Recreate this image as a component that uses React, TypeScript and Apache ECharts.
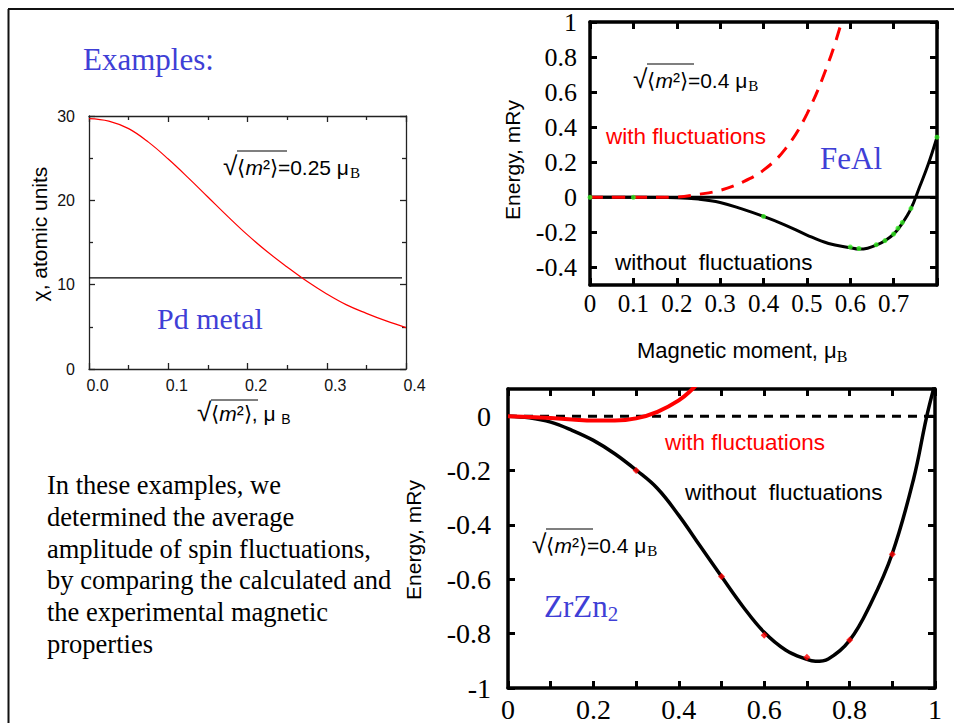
import React, { useEffect, useRef } from 'react';
import * as echarts from 'echarts';

const SANS = '"Liberation Sans", Arial, Helvetica, sans-serif';
const SERIF = '"Liberation Serif", "Times New Roman", Times, serif';
const BLUE = '#3f3fd6';
const RED = '#ff0000';

// ---- Pd metal: susceptibility vs fluctuation amplitude ----
const pdX = [0, 0.025, 0.05, 0.075, 0.1, 0.125, 0.15, 0.175, 0.2, 0.225, 0.25, 0.275, 0.3, 0.325, 0.35, 0.375, 0.4];
const pdChi = [29.7, 29.4, 28.5, 26.9, 24.9, 22.7, 20.4, 18.1, 15.9, 13.9, 12.1, 10.4, 8.9, 7.6, 6.6, 5.7, 4.9];
const pdLevelX = [0, 0.395];
const pdLevel = [10.8, 10.8];
const pdXTicks = [0, 0.1, 0.2, 0.3, 0.4];
const pdYTicks = [0, 10, 20, 30];

// ---- FeAl ----
const feX = [0, 0.1, 0.2, 0.25, 0.3, 0.35, 0.4, 0.45, 0.5, 0.55, 0.6, 0.62, 0.64, 0.66, 0.68, 0.7, 0.72, 0.74, 0.76, 0.78, 0.8];
const feNoFluct = [0, 0, -0.002, -0.01, -0.029, -0.066, -0.109, -0.158, -0.215, -0.263, -0.287, -0.295, -0.29, -0.273, -0.247, -0.21, -0.148, -0.065, 0.06, 0.19, 0.343];
const feFluctX = [0, 0.1, 0.2, 0.25, 0.3, 0.35, 0.4, 0.45, 0.5, 0.55, 0.58];
const feFluct = [0, 0, 0.002, 0.017, 0.04, 0.085, 0.155, 0.275, 0.475, 0.77, 1.0];
const feDotsX = [0, 0.1, 0.4, 0.6, 0.62, 0.66, 0.68, 0.7, 0.71, 0.72, 0.74, 0.8];
const feDots = [0, 0, -0.109, -0.283, -0.292, -0.27, -0.247, -0.209, -0.176, -0.143, -0.063, 0.343];
const feZeroX = [0, 0.8];
const feZero = [0, 0];
const feYTicks = [-0.4, -0.2, 0, 0.2, 0.4, 0.6, 0.8, 1];

// ---- ZrZn2 ----
const zrX = [0, 0.05, 0.1, 0.15, 0.2, 0.25, 0.3, 0.35, 0.4, 0.45, 0.5, 0.55, 0.6, 0.65, 0.7, 0.72, 0.75, 0.8, 0.85, 0.9, 0.95, 0.98, 1];
const zrNoFluct = [0, -0.006, -0.022, -0.052, -0.089, -0.138, -0.198, -0.266, -0.365, -0.478, -0.59, -0.7, -0.795, -0.86, -0.895, -0.902, -0.893, -0.825, -0.688, -0.505, -0.23, -0.005, 0.12];
const zrFluctX = [0, 0.05, 0.1, 0.15, 0.2, 0.25, 0.3, 0.35, 0.4, 0.43, 0.45];
const zrFluct = [0, -0.003, -0.007, -0.012, -0.016, -0.016, -0.008, 0.016, 0.058, 0.097, 0.13];
const zrDotsX = [0.3, 0.5, 0.6, 0.7, 0.8, 0.9];
const zrDots = [-0.2, -0.59, -0.806, -0.887, -0.823, -0.508];
const zrZeroX = [0, 1];
const zrZero = [0, 0];
const zrXTicks = [0, 0.2, 0.4, 0.6, 0.8, 1];
const zrYTicks = [-1, -0.8, -0.6, -0.4, -0.2, 0];

const textLines = [
  'In these examples, we',
  'determined the average',
  'amplitude of spin fluctuations,',
  'by comparing the calculated and',
  'the experimental magnetic',
  'properties',
];

const zip = (xs: number[], ys: number[]) => xs.map((x, i) => [x, ys[i]]);
const fmt = (v: number) => String(Math.round(v * 10) / 10);

function annotation(x: number, y: number, value: string, size: number) {
  return {
    type: 'text',
    x,
    y,
    z: 100,
    style: {
      text: `{r|√}{a|⟨}{i|m}{a|²⟩=${value} μ}{b|B}`,
      align: 'left',
      verticalAlign: 'middle',
      rich: {
        r: { fontFamily: SANS, fontSize: size * 1.25, fill: '#000', padding: [0, 0, 3, 0] },
        a: { fontFamily: SANS, fontSize: size, fill: '#000' },
        i: { fontFamily: SANS, fontSize: size, fontStyle: 'italic', fill: '#000' },
        b: { fontFamily: SERIF, fontSize: size * 0.72, fill: '#000', padding: [12, 0, 0, 1] },
      },
    },
  };
}

function overline(x1: number, x2: number, y: number) {
  return { type: 'line', z: 100, shape: { x1, y1: y, x2, y2: y }, style: { stroke: '#000', lineWidth: 1.2 } };
}

function label(x: number, y: number, text: string, color: string, size: number, family = SANS, rotate = false) {
  return {
    type: 'text',
    x,
    y,
    z: 100,
    rotation: rotate ? Math.PI / 2 : 0,
    style: {
      text,
      fill: color,
      fontSize: size,
      fontFamily: family,
      align: rotate ? 'center' : 'left',
      verticalAlign: 'middle',
    },
  };
}

export default function App() {
  const ref = useRef<HTMLDivElement>(null);

  useEffect(() => {
    if (!ref.current) return;
    const chart = echarts.init(ref.current, undefined, { renderer: 'svg' });

    const thin = { color: '#222', width: 1.3 };
    const thick = { color: '#000', width: 3.5 };
    const thickTick = { color: '#000', width: 3 };

    const option: any = {
      animation: false,
      backgroundColor: '#fff',
      grid: [
        { left: 89, top: 116, width: 317, height: 253 },
        { left: 590, top: 22, width: 347, height: 263 },
        { left: 508, top: 389, width: 427, height: 299 },
      ],
      xAxis: [
        {
          gridIndex: 0, type: 'value', position: 'bottom', min: 0, max: 0.4, interval: 0.1,
          axisLine: { onZero: false, lineStyle: thin },
          axisTick: { inside: true, length: 6, lineStyle: thin },
          minorTick: { show: true, splitNumber: 2, length: 4, lineStyle: thin },
          splitLine: { show: false },
          axisLabel: {
            fontFamily: SANS, fontSize: 16, color: '#111', margin: 8, padding: [0, 0, 0, 17],
            customValues: pdXTicks, formatter: (v: number) => v.toFixed(1),
          },
        },
        {
          gridIndex: 0, type: 'value', position: 'top', min: 0, max: 0.4, interval: 0.1,
          axisLine: { onZero: false, lineStyle: thin },
          axisTick: { inside: true, length: 6, lineStyle: thin },
          minorTick: { show: true, splitNumber: 2, length: 4, lineStyle: thin },
          splitLine: { show: false },
          axisLabel: { show: false },
        },
        {
          gridIndex: 1, type: 'value', position: 'bottom', min: 0, max: 0.8, interval: 0.1,
          axisLine: { onZero: false, lineStyle: thick },
          axisTick: { inside: true, length: 7, lineStyle: thickTick },
          splitLine: { show: false },
          axisLabel: {
            fontFamily: SERIF, fontSize: 25, color: '#000', margin: 6,
            formatter: (v: number) => (v > 0.75 ? '' : fmt(v)),
          },
        },
        {
          gridIndex: 1, type: 'value', position: 'top', min: 0, max: 0.8, interval: 0.1,
          axisLine: { onZero: false, lineStyle: thick },
          axisTick: { inside: true, length: 7, lineStyle: thickTick },
          splitLine: { show: false },
          axisLabel: { show: false },
        },
        {
          gridIndex: 2, type: 'value', position: 'bottom', min: 0, max: 1, interval: 0.1,
          axisLine: { onZero: false, lineStyle: thick },
          axisTick: { inside: true, length: 7, lineStyle: thickTick },
          splitLine: { show: false },
          axisLabel: {
            fontFamily: SERIF, fontSize: 28, color: '#000', margin: 7,
            customValues: zrXTicks, formatter: fmt,
          },
        },
        {
          gridIndex: 2, type: 'value', position: 'top', min: 0, max: 1, interval: 0.1,
          axisLine: { onZero: false, lineStyle: thick },
          axisTick: { inside: true, length: 7, lineStyle: thickTick },
          splitLine: { show: false },
          axisLabel: { show: false },
        },
      ],
      yAxis: [
        {
          gridIndex: 0, type: 'value', position: 'left', min: 0, max: 30, interval: 10,
          axisLine: { show: true, onZero: false, lineStyle: thin },
          axisTick: { show: true, inside: true, length: 6, lineStyle: thin },
          minorTick: { show: true, splitNumber: 2, length: 4, lineStyle: thin },
          splitLine: { show: false },
          axisLabel: { fontFamily: SANS, fontSize: 16, color: '#111', margin: 14, customValues: pdYTicks },
        },
        {
          gridIndex: 0, type: 'value', position: 'right', min: 0, max: 30, interval: 10,
          axisLine: { show: true, onZero: false, lineStyle: thin },
          axisTick: { show: true, inside: true, length: 6, lineStyle: thin },
          minorTick: { show: true, splitNumber: 2, length: 4, lineStyle: thin },
          splitLine: { show: false },
          axisLabel: { show: false },
        },
        {
          gridIndex: 1, type: 'value', position: 'left', min: -0.5, max: 1,
          axisLine: { show: true, onZero: false, lineStyle: thick },
          axisTick: { show: true, inside: true, length: 7, lineStyle: thickTick, customValues: feYTicks },
          splitLine: { show: false },
          axisLabel: { fontFamily: SERIF, fontSize: 26, color: '#000', margin: 13, customValues: feYTicks, formatter: fmt },
        },
        {
          gridIndex: 1, type: 'value', position: 'right', min: -0.5, max: 1,
          axisLine: { show: true, onZero: false, lineStyle: thick },
          axisTick: { show: true, inside: true, length: 7, lineStyle: thickTick, customValues: feYTicks },
          splitLine: { show: false },
          axisLabel: { show: false },
        },
        {
          gridIndex: 2, type: 'value', position: 'left', min: -1, max: 0.1,
          axisLine: { show: true, onZero: false, lineStyle: thick },
          axisTick: { show: true, inside: true, length: 7, lineStyle: thickTick, customValues: zrYTicks },
          splitLine: { show: false },
          axisLabel: { fontFamily: SERIF, fontSize: 28, color: '#000', margin: 17, customValues: zrYTicks, formatter: fmt },
        },
        {
          gridIndex: 2, type: 'value', position: 'right', min: -1, max: 0.1,
          axisLine: { show: true, onZero: false, lineStyle: thick },
          axisTick: { show: true, inside: true, length: 7, lineStyle: thickTick, customValues: zrYTicks },
          splitLine: { show: false },
          axisLabel: { show: false },
        },
      ],
      series: [
        // Pd
        {
          type: 'line', xAxisIndex: 0, yAxisIndex: 0, data: zip(pdLevelX, pdLevel), symbol: 'none',
          lineStyle: { color: '#000', width: 1.1 }, z: 3,
        },
        {
          type: 'line', xAxisIndex: 0, yAxisIndex: 0, data: zip(pdX, pdChi), symbol: 'none', smooth: 0.4,
          lineStyle: { color: RED, width: 1.2 }, z: 4,
        },
        // FeAl
        {
          type: 'line', xAxisIndex: 2, yAxisIndex: 2, data: zip(feZeroX, feZero), symbol: 'none',
          lineStyle: { color: '#000', width: 3 }, z: 3,
        },
        {
          type: 'line', xAxisIndex: 2, yAxisIndex: 2, data: zip(feX, feNoFluct), symbol: 'none', smooth: 0.4,
          lineStyle: { color: '#000', width: 3 }, z: 4,
        },
        {
          type: 'line', xAxisIndex: 2, yAxisIndex: 2, data: zip(feFluctX, feFluct), symbol: 'none', smooth: 0.4,
          clip: true, lineStyle: { color: RED, width: 3, type: [13, 9] }, z: 5,
        },
        {
          type: 'scatter', xAxisIndex: 2, yAxisIndex: 2, data: zip(feDotsX, feDots), symbol: 'circle', symbolSize: 5,
          itemStyle: { color: '#33ee22' }, z: 6,
        },
        // ZrZn2
        {
          type: 'line', xAxisIndex: 4, yAxisIndex: 4, data: zip(zrZeroX, zrZero), symbol: 'none',
          lineStyle: { color: '#000', width: 3, type: [9, 7] }, z: 3,
        },
        {
          type: 'line', xAxisIndex: 4, yAxisIndex: 4, data: zip(zrX, zrNoFluct), symbol: 'none', smooth: 0.4,
          clip: true, lineStyle: { color: '#000', width: 3.5 }, z: 4,
        },
        {
          type: 'line', xAxisIndex: 4, yAxisIndex: 4, data: zip(zrFluctX, zrFluct), symbol: 'none', smooth: 0.4,
          clip: true, lineStyle: { color: RED, width: 4 }, z: 5,
        },
        {
          type: 'scatter', xAxisIndex: 4, yAxisIndex: 4, data: zip(zrDotsX, zrDots), symbol: 'diamond', symbolSize: 7,
          itemStyle: { color: RED }, z: 6,
        },
      ],
      graphic: [
        // slide frame
        { type: 'line', shape: { x1: 8, y1: 9, x2: 954, y2: 9 }, style: { stroke: '#111', lineWidth: 2 } },
        { type: 'line', shape: { x1: 8.5, y1: 9, x2: 8.5, y2: 723 }, style: { stroke: '#111', lineWidth: 2 } },
        label(83, 59, 'Examples:', BLUE, 31, SERIF),
        label(157, 318, 'Pd metal', BLUE, 30, SERIF),
        label(820, 158, 'FeAl', BLUE, 31, SERIF),
        {
          type: 'text', x: 544, y: 606, z: 100,
          style: {
            text: '{a|ZrZn}{s|2}', align: 'left', verticalAlign: 'middle',
            rich: {
              a: { fontFamily: SERIF, fontSize: 31, fill: BLUE },
              s: { fontFamily: SERIF, fontSize: 21, fill: BLUE, padding: [16, 0, 0, 0] },
            },
          },
        },
        {
          type: 'text', x: 47, y: 469, z: 100,
          style: {
            text: textLines.join('\n'), fill: '#000', fontFamily: SERIF, fontSize: 26.5, lineHeight: 31.8,
            align: 'left', verticalAlign: 'top',
          },
        },
        // axis titles
        label(39, 234, 'χ, atomic units', '#000', 21, SANS, true),
        {
          type: 'text', x: 197, y: 413, z: 100,
          style: {
            text: '{r|√}{a|⟨}{i|m}{a|²⟩, μ }{b|B}', align: 'left', verticalAlign: 'middle',
            rich: {
              r: { fontFamily: SANS, fontSize: 26, fill: '#000', padding: [0, 0, 3, 0] },
              a: { fontFamily: SANS, fontSize: 21, fill: '#000' },
              i: { fontFamily: SANS, fontSize: 21, fontStyle: 'italic', fill: '#000' },
              b: { fontFamily: SANS, fontSize: 14, fill: '#000', padding: [12, 0, 0, 0] },
            },
          },
        },
        overline(211, 258, 400),
        label(512, 160, 'Energy, mRy', '#000', 21, SANS, true),
        {
          type: 'text', x: 637, y: 350, z: 100,
          style: {
            text: '{a|Magnetic moment, μ}{b|B}', align: 'left', verticalAlign: 'middle',
            rich: {
              a: { fontFamily: SANS, fontSize: 22, fill: '#000' },
              b: { fontFamily: SERIF, fontSize: 16, fill: '#000', padding: [12, 0, 0, 0] },
            },
          },
        },
        label(413, 540, 'Energy, mRy', '#000', 21, SANS, true),
        // annotations
        annotation(223, 167, '0.25', 21),
        overline(237, 287, 151),
        annotation(633, 80, '0.4', 21),
        overline(647, 694, 64),
        annotation(532, 545, '0.4', 21),
        overline(546, 593, 529),
        label(606, 136, 'with fluctuations', RED, 22.5),
        label(615, 262, 'without\u00a0 fluctuations', '#000', 22.5),
        label(665, 442, 'with fluctuations', RED, 22.5),
        label(685, 492, 'without\u00a0 fluctuations', '#000', 22.5),
      ],
    };

    chart.setOption(option);
    return () => chart.dispose();
  }, []);

  return (
    <div
      ref={ref}
      style={{ position: 'absolute', left: 0, top: 0, width: 954, height: 723, background: '#fff' }}
    />
  );
}
